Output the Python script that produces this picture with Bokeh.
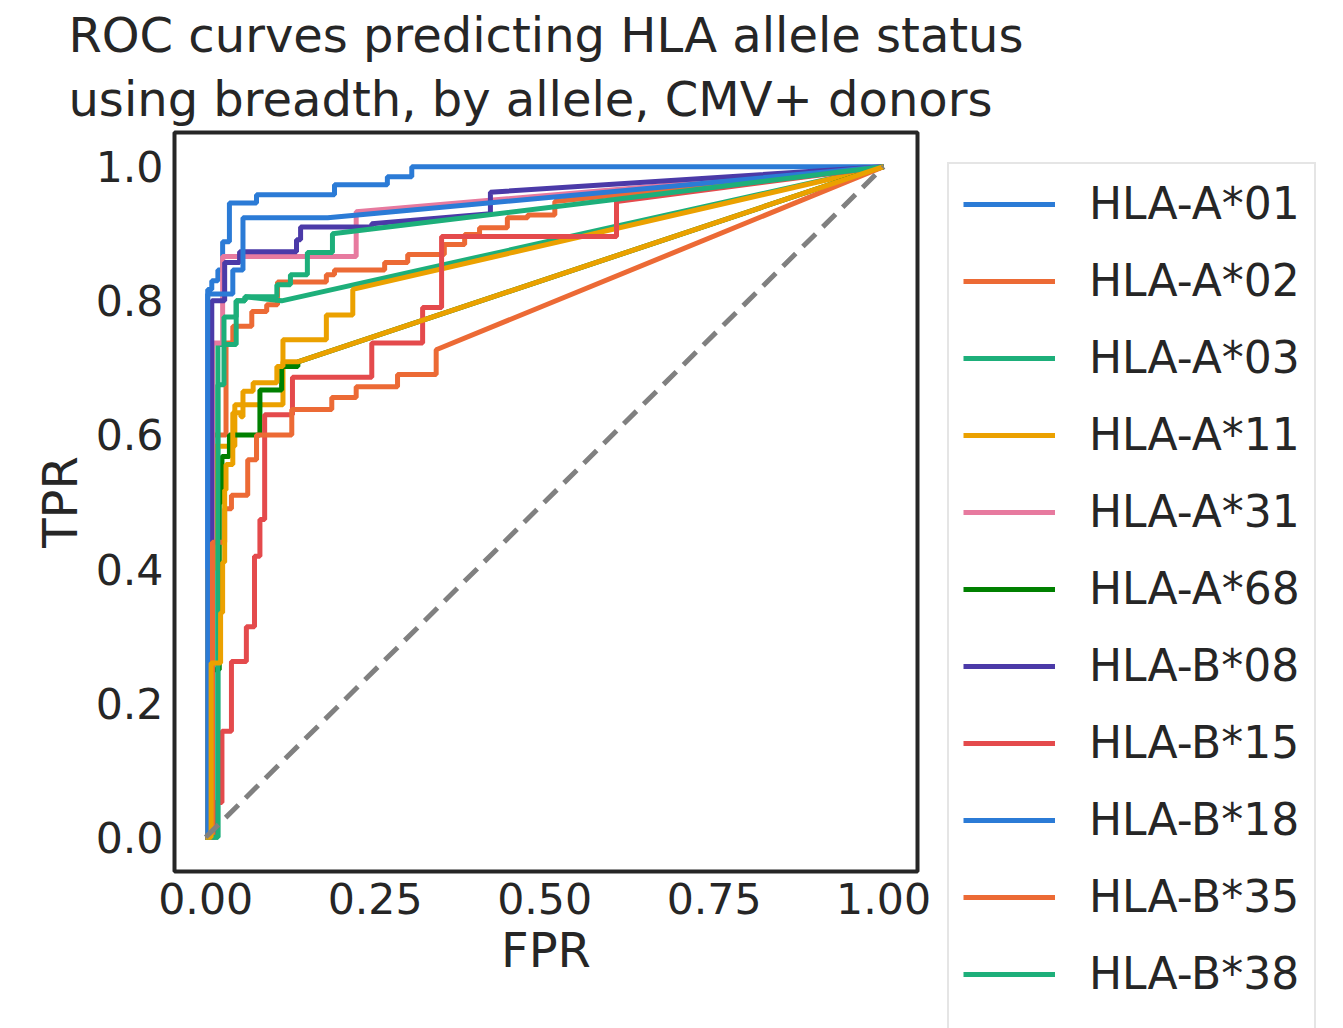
from bokeh.plotting import figure
from bokeh.models import Legend, LegendItem, FixedTicker, Range1d
from bokeh.embed import file_html
from bokeh.resources import INLINE

alleles = ["HLA-A*01","HLA-A*02","HLA-A*03","HLA-A*11","HLA-A*31","HLA-A*68",
           "HLA-B*08","HLA-B*15","HLA-B*18","HLA-B*35","HLA-B*38","HLA-B*51"]
colors = ["#2b7bd6","#ec6a35","#1daf7a","#eba100","#e77a9f","#008000",
          "#4b3aa8","#e44a4c","#2b7bd6","#ec6a35","#1daf7a","#eba100"]

fpr_A01 = [0,0.003,0.003,0.009,0.009,0.018,0.018,0.025,0.025,0.035,0.035,0.075,0.075,0.19,0.19,0.268,0.268,0.304,0.304,1.0]
tpr_A01 = [0,0,0.817,0.817,0.83,0.83,0.846,0.846,0.888,0.888,0.946,0.946,0.958,0.958,0.973,0.973,0.985,0.985,1.0,1.0]
fpr_A02 = [0,0.01,0.01,0.03,0.03,0.04,0.04,0.068,0.068,0.09,0.09,0.106,0.106,0.178,0.178,0.19,0.19,0.264,0.264,0.298,0.298,0.352,0.352,0.382,0.382,0.404,0.404,0.445,0.445,0.475,0.475,0.515,0.515,1.0]
tpr_A02 = [0,0,0.6,0.6,0.737,0.737,0.762,0.762,0.784,0.784,0.794,0.794,0.828,0.828,0.839,0.839,0.846,0.846,0.857,0.857,0.869,0.869,0.884,0.884,0.899,0.899,0.909,0.909,0.924,0.924,0.928,0.928,0.948,1.0]
fpr_A03 = [0,0.018,0.018,0.045,0.045,0.058,0.058,0.112,1.0]
tpr_A03 = [0,0,0.735,0.735,0.80,0.80,0.806,0.80,1.0]
fpr_A11 = [0,0.003,0.003,0.013,0.013,0.043,0.043,0.114,0.114,0.178,0.178,0.217,0.217,1.0]
tpr_A11 = [0,0,0.4,0.4,0.583,0.583,0.645,0.645,0.742,0.742,0.779,0.779,0.817,1.0]
fpr_A31 = [0,0.01,0.01,0.025,0.025,0.222,0.222,1.0]
tpr_A31 = [0,0,0.737,0.737,0.866,0.866,0.933,1.0]
fpr_A68 = [0,0.005,0.005,0.02,0.02,0.024,0.024,0.035,0.035,0.08,0.08,0.112,0.112,0.136,0.136,1.0]
tpr_A68 = [0,0,0.25,0.25,0.5,0.5,0.568,0.568,0.60,0.60,0.667,0.667,0.702,0.702,0.709,1.0]
fpr_B08 = [0,0.009,0.009,0.028,0.028,0.05,0.05,0.134,0.134,0.14,0.14,0.245,0.245,0.42,0.42,1.0]
tpr_B08 = [0,0,0.80,0.80,0.857,0.857,0.873,0.873,0.891,0.891,0.91,0.91,0.915,0.93,0.962,1.0]
fpr_B15 = [0,0.013,0.013,0.024,0.024,0.038,0.038,0.06,0.06,0.072,0.072,0.08,0.08,0.087,0.087,0.128,0.128,0.245,0.245,0.32,0.32,0.348,0.348,0.606,0.606,1.0]
tpr_B15 = [0,0,0.052,0.052,0.158,0.158,0.262,0.262,0.314,0.314,0.419,0.419,0.474,0.474,0.63,0.63,0.686,0.686,0.737,0.737,0.79,0.79,0.896,0.896,0.948,1.0]
fpr_B18 = [0,0.003,0.003,0.04,0.04,0.055,0.055,0.18,1.0]
tpr_B18 = [0,0,0.81,0.81,0.846,0.846,0.924,0.924,1.0]
fpr_B35 = [0,0.01,0.01,0.028,0.028,0.038,0.038,0.062,0.062,0.075,0.075,0.127,0.127,0.186,0.186,0.222,0.222,0.283,0.283,0.34,0.34,1.0]
tpr_B35 = [0,0,0.44,0.44,0.49,0.49,0.51,0.51,0.563,0.563,0.60,0.60,0.638,0.638,0.656,0.656,0.672,0.672,0.69,0.69,0.727,1.0]
fpr_B38 = [0,0.018,0.018,0.027,0.027,0.045,0.045,0.058,0.058,0.105,0.105,0.125,0.125,0.15,0.15,0.187,0.187,1.0]
tpr_B38 = [0,0,0.675,0.675,0.776,0.776,0.80,0.80,0.806,0.806,0.824,0.824,0.839,0.839,0.872,0.872,0.90,1.0]
fpr_B51 = [0,0.008,0.008,0.022,0.022,0.025,0.025,0.028,0.028,0.03,0.03,0.04,0.04,0.052,0.052,0.055,0.055,0.07,0.07,0.105,0.105,0.114,0.114,0.136,0.136,1.0]
tpr_B51 = [0,0,0.26,0.26,0.335,0.335,0.41,0.41,0.518,0.518,0.556,0.556,0.633,0.633,0.627,0.627,0.665,0.665,0.678,0.678,0.702,0.702,0.709,0.709,0.709,1.0]

curves = [(fpr_A01,tpr_A01),(fpr_A02,tpr_A02),(fpr_A03,tpr_A03),(fpr_A11,tpr_A11),
          (fpr_A31,tpr_A31),(fpr_A68,tpr_A68),(fpr_B08,tpr_B08),(fpr_B15,tpr_B15),
          (fpr_B18,tpr_B18),(fpr_B35,tpr_B35),(fpr_B38,tpr_B38),(fpr_B51,tpr_B51)]

FONT = "DejaVu Sans"
p = figure(frame_width=743, frame_height=739, output_backend="svg", toolbar_location=None,
           x_range=Range1d(-0.046, 1.05), y_range=Range1d(-0.051, 1.051),
           min_border_left=174, min_border_top=125, min_border_right=0, min_border_bottom=10)
p.title.text = "ROC curves predicting HLA allele status\n using breadth, by allele, CMV+ donors"
p.title.text_font = FONT
p.title.text_font_size = "36pt"
p.title.text_font_style = "normal"
p.title.text_color = "#262626"
p.title.align = "center"
p.title.text_line_height = 1.15
p.grid.visible = False
p.outline_line_color = "#262626"
p.outline_line_width = 4
p.background_fill_color = "white"
p.border_fill_color = "white"
for ax in (p.xaxis, p.yaxis):
    ax.axis_line_color = None
    ax.major_tick_line_color = None
    ax.minor_tick_line_color = None
    ax.major_label_text_font = FONT
    ax.major_label_text_font_size = "32pt"
    ax.major_label_text_color = "#262626"
    ax.axis_label_text_font = FONT
    ax.axis_label_text_font_size = "36pt"
    ax.axis_label_text_font_style = "normal"
    ax.axis_label_text_color = "#262626"
p.xaxis.ticker = FixedTicker(ticks=[0, 0.25, 0.5, 0.75, 1.0])
p.xaxis.major_label_overrides = {0: "0.00", 0.25: "0.25", 0.5: "0.50", 0.75: "0.75", 1.0: "1.00"}
p.yaxis.ticker = FixedTicker(ticks=[0, 0.2, 0.4, 0.6, 0.8, 1.0])
p.yaxis.major_label_overrides = {0: "0.0", 0.2: "0.2", 0.4: "0.4", 0.6: "0.6", 0.8: "0.8", 1.0: "1.0"}
p.xaxis.axis_label = "FPR"
p.yaxis.axis_label = "TPR"

items = []
for name, col, (fx, ty) in zip(alleles, colors, curves):
    r = p.line(fx, ty, line_color=col, line_width=5)
    items.append(LegendItem(label=name, renderers=[r]))
p.line([0, 1], [0, 1], line_color="gray", line_width=5, line_dash="18 10")

leg = Legend(items=items, location="top_left")
leg.label_text_font = FONT
leg.label_text_font_size = "33pt"
leg.label_text_color = "#262626"
leg.glyph_width = 92
leg.glyph_height = 40
leg.label_height = 40
leg.spacing = 26
leg.padding = 14
leg.margin = 30
leg.border_line_color = "#cccccc"
leg.border_line_width = 2
leg.label_standoff = 34
p.add_layout(leg, "right")

open("out.html", "w").write(file_html(p, INLINE))
